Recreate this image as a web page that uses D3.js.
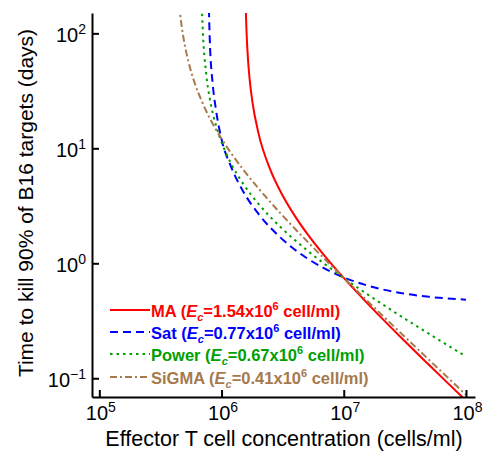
<!DOCTYPE html>
<html>
<head>
<meta charset="utf-8">
<script src="https://cdn.jsdelivr.net/npm/d3@7"></script>
<style>
  body { margin: 0; background: #fff; }
  svg text { font-family: "Liberation Sans", Arial, sans-serif; }
</style>
</head>
<body>
<div id="chart"></div>
<script>
//
// Data (E in 10^6 cells/ml, time in days)
//
var models   = ["MA", "Sat", "Power", "SiGMA"];
var ecValues = ["1.54", "0.77", "0.67", "0.41"];

var E_MA = [1.58, 1.6, 1.65, 1.7, 1.8, 2, 2.5, 3, 4, 5, 7, 10, 15, 20, 30, 50, 70, 100];
var T_MA = [157.7, 105.1, 57.3, 39.4, 24.3, 13.7, 6.57, 4.32, 2.56, 1.82, 1.155, 0.746, 0.469, 0.342, 0.2216, 0.1302, 0.0921, 0.0641];

var E_Sat = [0.78, 0.8, 0.85, 0.9, 1, 1.2, 1.5, 2, 3, 5, 7, 10, 15, 20, 30, 50, 70, 100];
var T_Sat = [274, 92.1, 34.9, 21.7, 12.0, 6.87, 4.235, 2.699, 1.693, 1.107, 0.898, 0.754, 0.649, 0.598, 0.549, 0.511, 0.4945, 0.4825];

var E_Power = [0.69, 0.7, 0.75, 0.8, 0.9, 1, 1.2, 1.5, 2, 3, 5, 7, 10, 15, 20, 30, 50, 70, 100];
var T_Power = [169, 114.6, 43.8, 27.3, 15.85, 11.3, 7.33, 4.93, 3.30, 2.093, 1.300, 0.983, 0.745, 0.553, 0.451, 0.3415, 0.2430, 0.1951, 0.1550];

var E_SiGMA = [0.44, 0.45, 0.47, 0.5, 0.55, 0.6, 0.7, 0.8, 1, 1.2, 1.5, 2, 3, 5, 7, 10, 15, 20, 30, 50, 70, 100];
var T_SiGMA = [238, 178.8, 119.2, 79.5, 51.1, 37.6, 24.7, 18.3, 12.1, 9.05, 6.56, 4.50, 2.76, 1.558, 1.085, 0.746, 0.490, 0.365, 0.2417, 0.1442, 0.1028, 0.0718];

var xTicks = [1e5, 1e6, 1e7, 1e8];
var yTicks = [0.1, 1, 10, 100];

//
// Layout
//
var width = 483, height = 457;
var plot = {left: 92, right: 475, top: 13, bottom: 397};

var colors = ["#ff0000", "#0000ff", "#00a000", "#a67a4c"];
var dashes = [null, "8,5", "2.5,4", "7,3,2,3"];

var svg = d3.select("#chart").append("svg")
    .attr("width", width)
    .attr("height", height);

var x = d3.scaleLog()
    .domain([Math.pow(10, 4.94), Math.pow(10, 8.074)])
    .range([plot.left, plot.right]);

var y = d3.scaleLog()
    .domain([Math.pow(10, -1.163), Math.pow(10, 2.177)])
    .range([plot.bottom, plot.top]);

svg.append("clipPath").attr("id", "plotclip")
    .append("rect")
    .attr("x", plot.left).attr("y", plot.top)
    .attr("width", plot.right - plot.left).attr("height", plot.bottom - plot.top);

//
// Curves
//
var series = [
    {E: E_MA, T: T_MA},
    {E: E_Sat, T: T_Sat},
    {E: E_Power, T: T_Power},
    {E: E_SiGMA, T: T_SiGMA}
];

var line = d3.line()
    .x(function(d) { return x(d[0] * 1e6); })
    .y(function(d) { return y(d[1]); })
    .curve(d3.curveMonotoneX);

var curves = svg.append("g").attr("clip-path", "url(#plotclip)");

series.forEach(function(s, i) {
    var pts = s.E.map(function(e, j) { return [e, s.T[j]]; });
    curves.append("path")
        .datum(pts)
        .attr("d", line)
        .attr("fill", "none")
        .attr("stroke", colors[i])
        .attr("stroke-width", 2)
        .attr("stroke-dasharray", dashes[i]);
});

//
// Axes
//
function powerLabel(sel) {
    sel.each(function(d) {
        var t = d3.select(this);
        var p = Math.round(Math.log10(d));
        t.text("10");
        t.append("tspan")
            .attr("dy", "-8")
            .attr("font-size", "14px")
            .text(p < 0 ? "\u22121" : p);
    });
}

var xAxis = svg.append("g")
    .attr("transform", "translate(0," + plot.bottom + ")")
    .call(d3.axisBottom(x).tickValues(xTicks).tickSize(-7).tickSizeOuter(0).tickPadding(9).tickFormat(""));

xAxis.selectAll(".tick text")
    .attr("font-size", "20px")
    .attr("fill", "#000")
    .attr("dx", "1")
    .call(powerLabel);

var yAxis = svg.append("g")
    .attr("transform", "translate(" + plot.left + ",0)")
    .call(d3.axisLeft(y).tickValues(yTicks).tickSize(-7).tickSizeOuter(0).tickPadding(6).tickFormat(""));

yAxis.selectAll(".tick text")
    .attr("font-size", "20px")
    .attr("fill", "#000")
    .attr("dy", "0.42em")
    .call(powerLabel);

svg.selectAll(".domain").attr("stroke", "#000").attr("stroke-width", 2);
svg.selectAll(".tick line").attr("stroke", "#000").attr("stroke-width", 2);

// axis titles
svg.append("text")
    .attr("x", 284)
    .attr("y", 446)
    .attr("text-anchor", "middle")
    .attr("font-size", "21.5px")
    .text("Effector T cell concentration (cells/ml)");

svg.append("text")
    .attr("transform", "translate(33,203) rotate(-90)")
    .attr("text-anchor", "middle")
    .attr("font-size", "21px")
    .text("Time to kill 90% of B16 targets (days)");

//
// Legend
//
var legend = svg.append("g");
var rowY = [310, 332, 354, 377];

models.forEach(function(m, i) {
    legend.append("line")
        .attr("x1", 110).attr("x2", 150)
        .attr("y1", rowY[i]).attr("y2", rowY[i])
        .attr("stroke", colors[i])
        .attr("stroke-width", 2)
        .attr("stroke-dasharray", dashes[i]);

    var t = legend.append("text")
        .attr("x", 151)
        .attr("y", rowY[i] + 7)
        .attr("font-size", "16.5px")
        .attr("font-weight", "bold")
        .attr("fill", colors[i]);
    t.append("tspan").text(m + " (");
    t.append("tspan").attr("font-style", "italic").text("E");
    t.append("tspan").attr("font-style", "italic").attr("font-size", "11px").attr("dy", 4).text("c");
    t.append("tspan").attr("dy", -4).text("=" + ecValues[i] + "x10");
    t.append("tspan").attr("font-size", "11px").attr("dy", -7).text("6");
    t.append("tspan").attr("dy", 7).text(" cell/ml)");
});
</script>
</body>
</html>
